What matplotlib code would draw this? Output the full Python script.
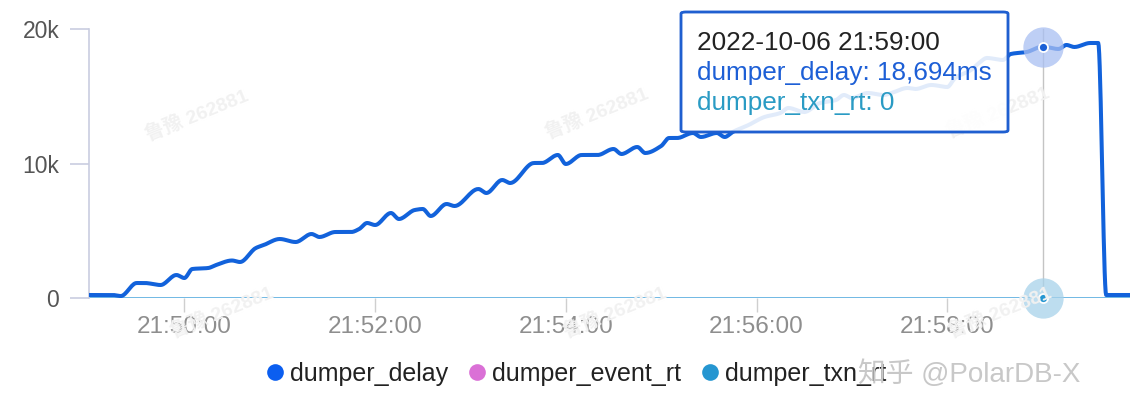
import numpy as np
import pandas as pd
import matplotlib
matplotlib.use("Agg")
import matplotlib.pyplot as plt
import matplotlib.dates as mdates
from matplotlib.patches import FancyBboxPatch
from matplotlib.lines import Line2D

# ---------------- data ----------------
date_str = "2022-10-06"
times = [
    "21:49:00", "21:49:15", "21:49:20", "21:49:30", "21:49:35", "21:49:45", "21:49:55",
    "21:50:00", "21:50:05", "21:50:15", "21:50:20", "21:50:30", "21:50:35", "21:50:45",
    "21:50:50", "21:51:00", "21:51:10", "21:51:20", "21:51:25", "21:51:35", "21:51:45",
    "21:51:50", "21:51:55", "21:52:00", "21:52:10", "21:52:15", "21:52:25", "21:52:30",
    "21:52:35", "21:52:45", "21:52:50", "21:53:05", "21:53:10", "21:53:20", "21:53:25",
    "21:53:40", "21:53:45", "21:53:55", "21:54:00", "21:54:10", "21:54:20", "21:54:30",
    "21:54:35", "21:54:45", "21:54:50", "21:55:00", "21:55:05", "21:55:10", "21:55:20",
    "21:55:25", "21:55:35", "21:55:40", "21:55:45", "21:55:55", "21:56:05", "21:56:15",
    "21:56:20", "21:56:30", "21:56:40", "21:56:50", "21:56:55", "21:57:00", "21:57:10",
    "21:57:20", "21:57:25", "21:57:35", "21:57:40", "21:57:50", "21:58:00", "21:58:05",
    "21:58:15", "21:58:20", "21:58:25", "21:58:35", "21:58:40", "21:58:50", "21:59:00",
    "21:59:10", "21:59:15", "21:59:20", "21:59:30", "21:59:35", "21:59:40", "21:59:55",
]
dumper_delay = [
    245, 245, 170, 1136, 1136, 988, 1730,
    1508, 2176, 2250, 2473, 2807, 2696, 3736,
    3959, 4404, 4181, 4775, 4553, 4924, 4924,
    5147, 5593, 5444, 6335, 5890, 6558, 6632,
    6113, 7004, 6855, 8118, 7821, 8786, 8563,
    10049, 10049, 10643, 9975, 10643, 10643, 11089,
    10717, 11237, 10791, 11311, 11905, 11905, 12277,
    11980, 12277, 11980, 12351, 12871, 13465, 13762,
    14133, 13836, 14505, 14727, 15099, 14876, 15248,
    15099, 15248, 15619, 15545, 15842, 15693, 16362,
    16956, 17476, 17847, 17699, 18144, 18293, 18694,
    18516, 18813, 18664, 18961, 18961, 245, 245,
]
txn_times = ["21:49:00", "21:59:55"]
dumper_txn_rt = [0, 0]

series_names = ["dumper_delay", "dumper_event_rt", "dumper_txn_rt"]
series_colors = ["#0b5ef0", "#da70d6", "#2596d1"]
line_color = "#1262db"

hover_time = "21:59:00"
y_ticks = [0, 10000, 20000]
y_ticklabels = ["0", "10k", "20k"]
x_tick_minutes = [50, 52, 54, 56, 58]
watermark = "知乎 @PolarDB-X"
faint_mark = "鲁豫 262881"

# ---------------- helpers ----------------
def to_num(ts):
    return mdates.date2num(pd.to_datetime([f"{date_str} {t}" for t in ts]))


def monotone_smooth(xs, ys, per=16):
    xs = np.asarray(xs, float)
    ys = np.asarray(ys, float)
    n = len(xs)
    h = np.diff(xs)
    d = np.diff(ys) / h
    m = np.zeros(n)
    m[0], m[-1] = d[0], d[-1]
    for k in range(1, n - 1):
        if d[k - 1] * d[k] <= 0:
            m[k] = 0.0
        else:
            w1 = 2 * h[k] + h[k - 1]
            w2 = h[k] + 2 * h[k - 1]
            m[k] = (w1 + w2) / (w1 / d[k - 1] + w2 / d[k])
    ox, oy = [], []
    for k in range(n - 1):
        t = np.linspace(0, 1, per, endpoint=(k == n - 2))
        h00 = 2 * t**3 - 3 * t**2 + 1
        h10 = t**3 - 2 * t**2 + t
        h01 = -2 * t**3 + 3 * t**2
        h11 = t**3 - t**2
        ox.append(xs[k] + t * h[k])
        oy.append(h00 * ys[k] + h10 * h[k] * m[k] + h01 * ys[k + 1] + h11 * h[k] * m[k + 1])
    return np.concatenate(ox), np.concatenate(oy)


plt.rcParams["font.family"] = ["Liberation Sans", "Noto Sans CJK SC", "DejaVu Sans"]

W, H = 1148, 418
fig = plt.figure(figsize=(W / 100, H / 100), dpi=100)
fig.patch.set_facecolor("white")

def fx(px):
    return px / W

def fy(py):
    return (H - py) / H

ax = fig.add_axes([fx(89), fy(298.3), fx(1130) - fx(89), fy(29) - fy(298.3)])

xd = to_num(times)
xt = to_num(txn_times)

# faint background watermarks
for (px, py) in [(197, 115), (597, 113), (998, 112), (222, 312), (615, 312), (1000, 312)]:
    fig.text(fx(px), fy(py), faint_mark, fontsize=14, color="#f1f1f1", rotation=22,
             ha="center", va="center", fontweight="bold", zorder=0)

# series
sx, sy = monotone_smooth(xd, dumper_delay)
ax.plot(sx, sy, color=line_color, lw=2.9, solid_capstyle="round", solid_joinstyle="round", zorder=3)
ax.plot(xt, dumper_txn_rt, color="#4aa6dc", lw=1.1, zorder=2)

# crosshair + hover markers
hx = to_num([hover_time])[0]
hv = dumper_delay[times.index(hover_time)]
ax.plot([hx, hx], [0, 20000], color="#c4c4c4", lw=1.0, zorder=2, clip_on=False)
ax.plot([hx], [hv], "o", ms=29, color="#a9bff2", alpha=0.75, mec="none", zorder=4, clip_on=False)
ax.plot([hx], [hv], "o", ms=6.5, color="#1a5fd6", mec="white", mew=1.3, zorder=5, clip_on=False)
ax.plot([hx], [0], "o", ms=29, color="#a7d2ea", alpha=0.75, mec="none", zorder=4, clip_on=False)
ax.plot([hx], [0], "o", ms=6.5, color="#2596d1", mec="white", mew=1.3, zorder=5, clip_on=False)

# axes styling
ax.set_xlim(xd[0], xd[-1])
ax.set_ylim(0, 20000)
for s in ["top", "right", "bottom"]:
    ax.spines[s].set_visible(False)
ax.spines["left"].set_color("#c9cde0")
ax.spines["left"].set_linewidth(1.2)
ax.set_yticks(y_ticks)
ax.set_yticklabels(y_ticklabels)
ax.tick_params(axis="y", length=13.5, width=1.2, color="#c9cde0", pad=8,
               labelsize=16.5, labelcolor="#555555")
ax.xaxis.set_major_locator(mdates.MinuteLocator(byminute=x_tick_minutes))
ax.xaxis.set_major_formatter(mdates.DateFormatter("%H:%M:%S"))
ax.tick_params(axis="x", length=10, width=1.0, color="#cfcfcf", pad=3,
               labelsize=17.5, labelcolor="#8e8e8e")
ax.set_facecolor("none")

# tooltip
box = FancyBboxPatch((fx(681), fy(132)), fx(1008) - fx(681), fy(12) - fy(132),
                     boxstyle="round,pad=0,rounding_size=0.004",
                     transform=fig.transFigure, facecolor="white", alpha=0.88,
                     edgecolor="#1f5fd0", linewidth=1.8, zorder=10)
fig.add_artist(box)
box2 = FancyBboxPatch((fx(681), fy(132)), fx(1008) - fx(681), fy(12) - fy(132),
                      boxstyle="round,pad=0,rounding_size=0.004",
                      transform=fig.transFigure, facecolor="none",
                      edgecolor="#1f5fd0", linewidth=1.8, zorder=11)
fig.add_artist(box2)
fig.text(fx(697), fy(43), f"{date_str} {hover_time}", fontsize=18.8, color="#222222",
         va="center", ha="left", zorder=12)
fig.text(fx(697), fy(73), f"{series_names[0]}: {hv:,}ms", fontsize=18.8, color="#1d5fd6",
         va="center", ha="left", zorder=12)
fig.text(fx(697), fy(103), f"{series_names[2]}: {dumper_txn_rt[0]}", fontsize=18.8,
         color="#2a9bc4", va="center", ha="left", zorder=12)

# legend
handles = [Line2D([], [], ls="none", marker="o", ms=12, color=c, mec="none") for c in series_colors]
fig.legend(handles, series_names, loc="center", bbox_to_anchor=(fx(576), fy(374)),
           ncol=3, frameon=False, fontsize=18, handlelength=0.7, handletextpad=0.25,
           columnspacing=0.8, labelcolor="#222222")

fig.text(fx(858), fy(374), watermark, fontsize=20, color="#c8c8c8", ha="left", va="center",
         zorder=20)

fig.savefig("out.png", dpi=100)
